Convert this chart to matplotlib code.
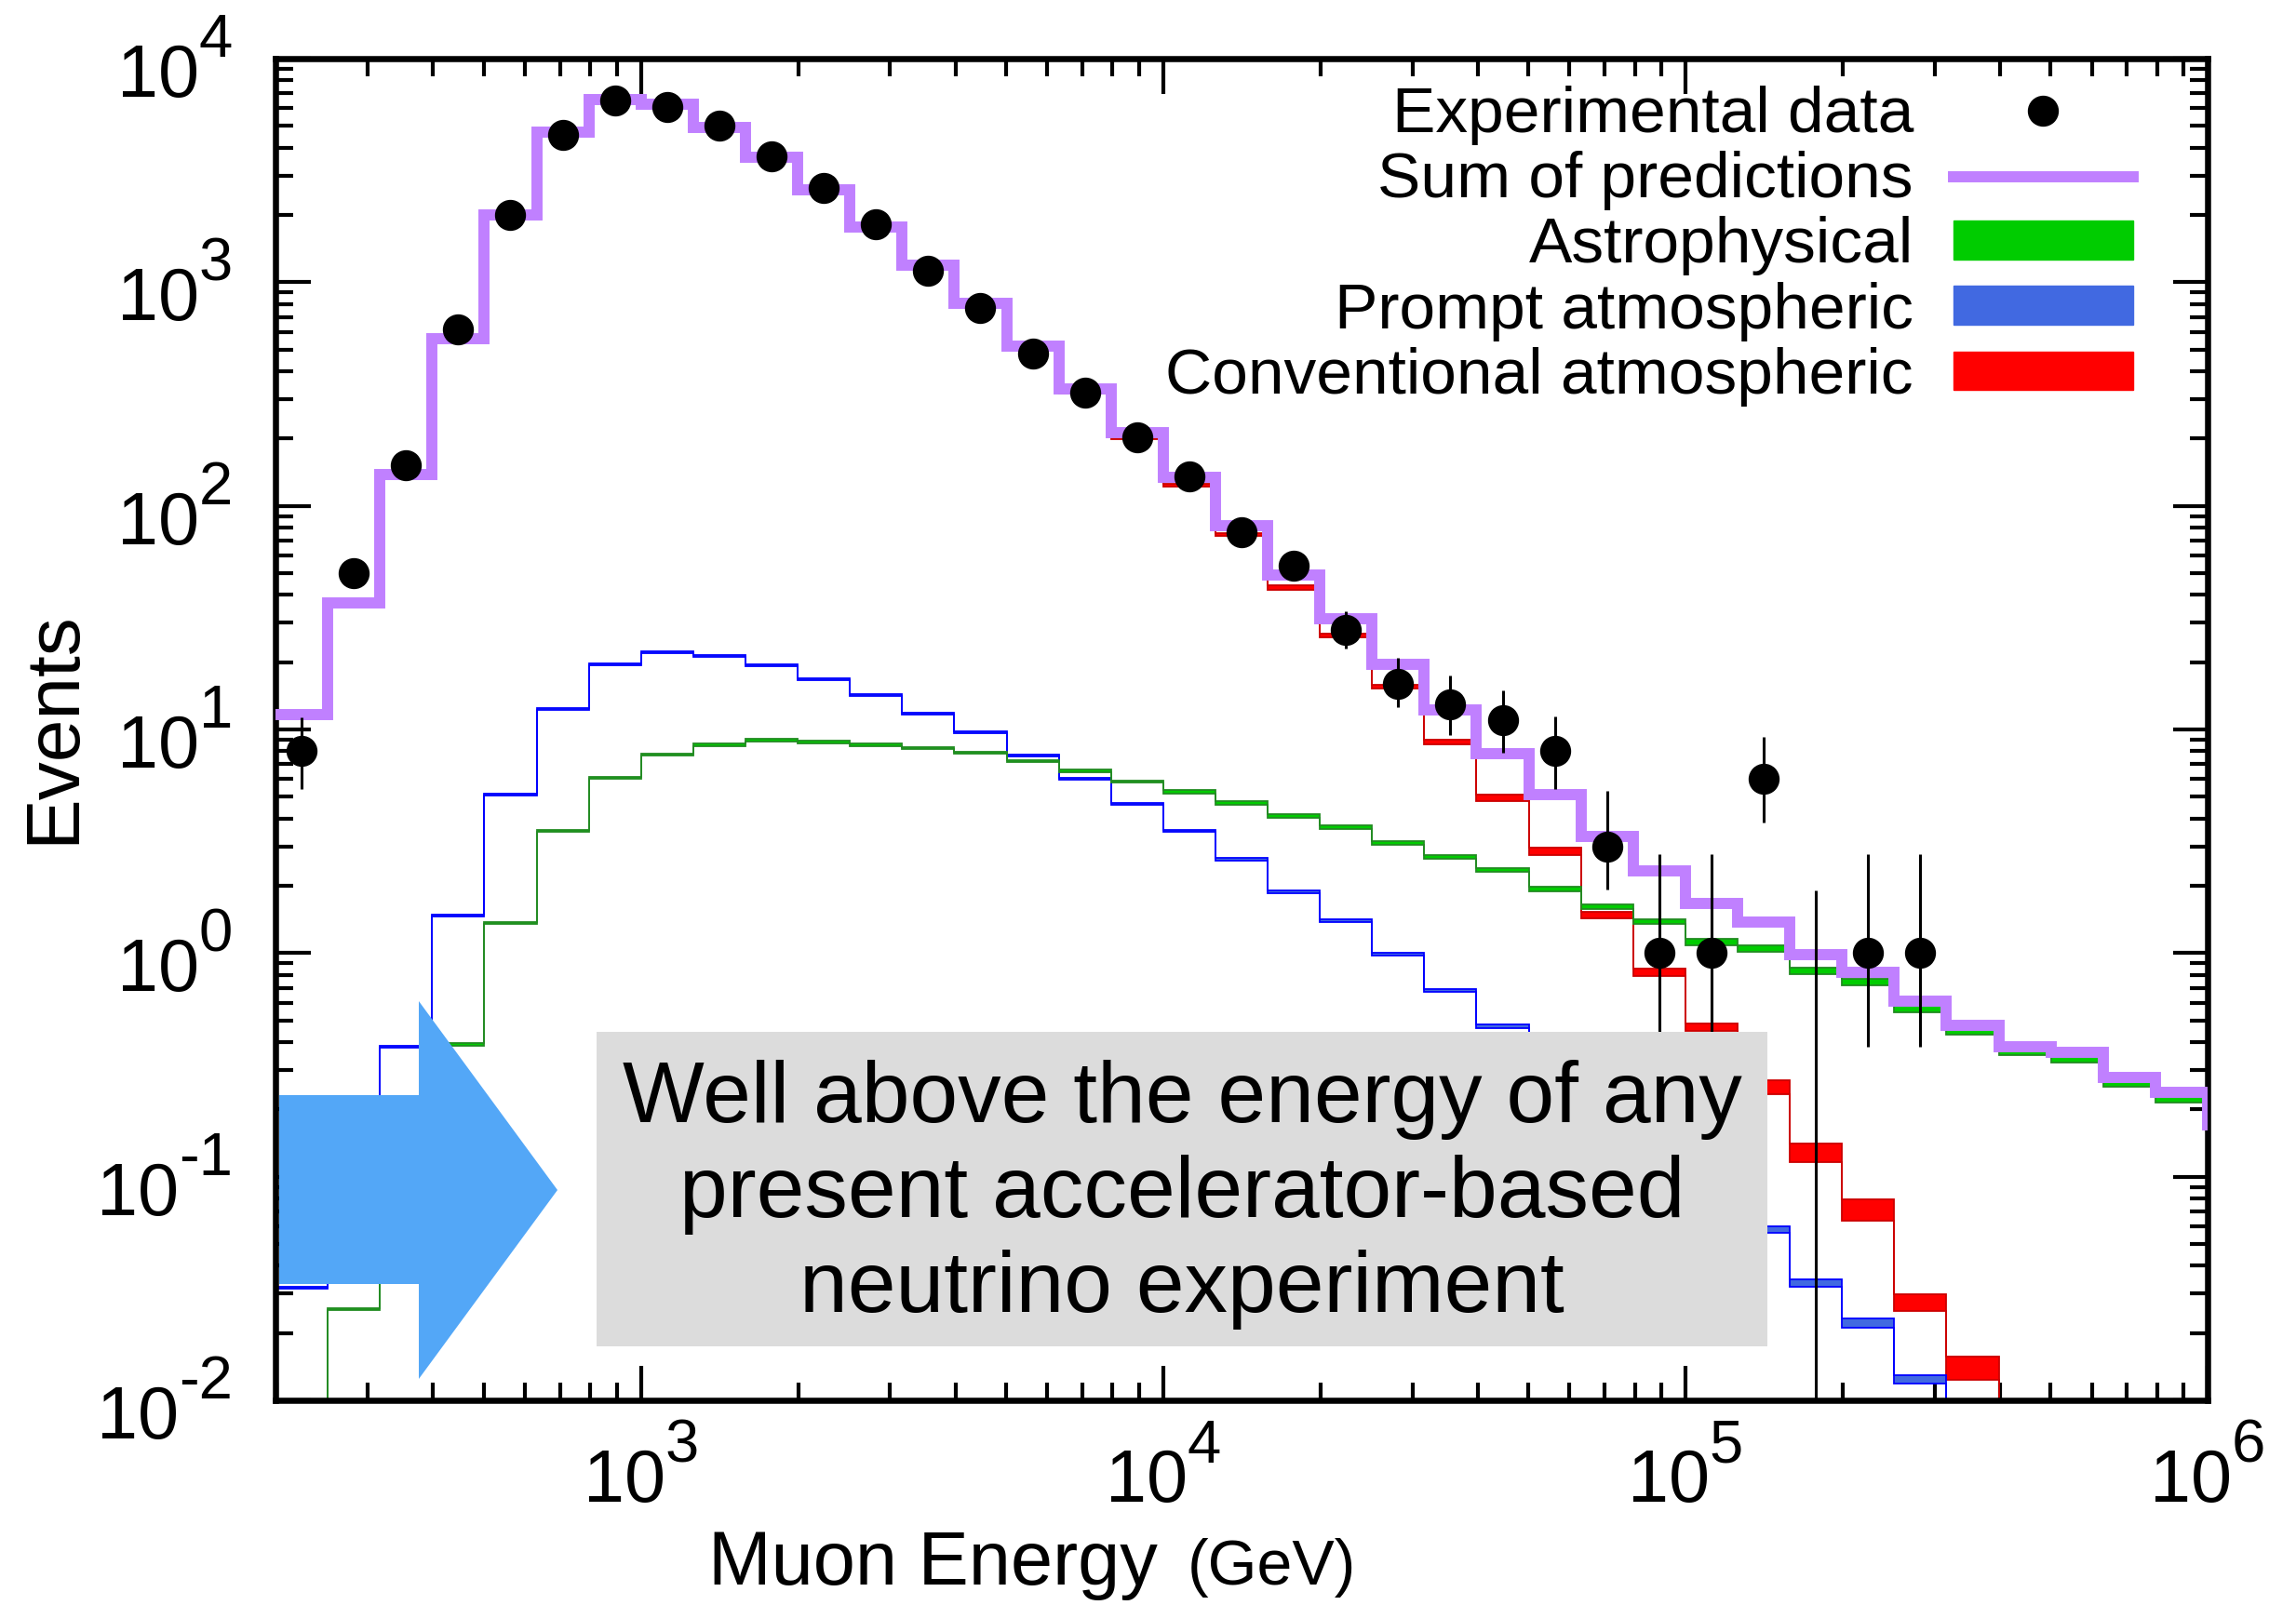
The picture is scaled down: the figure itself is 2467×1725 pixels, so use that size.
import numpy as np
import matplotlib
matplotlib.use('Agg')
import matplotlib.pyplot as plt
from matplotlib.patches import Patch, Polygon, Rectangle
from matplotlib.lines import Line2D
from matplotlib.ticker import LogLocator, NullFormatter

plt.rcParams['font.family'] = ['Liberation Sans', 'DejaVu Sans']

W, H = 2467, 1725

# log10(E / GeV) bin edges
log_edges = [2.3, 2.4, 2.5, 2.6, 2.7, 2.8, 2.9, 3.0, 3.1, 3.2, 3.3, 3.4, 3.5,
             3.6, 3.7, 3.8, 3.9, 4.0, 4.1, 4.2, 4.3, 4.4, 4.5, 4.6, 4.7, 4.8,
             4.9, 5.0, 5.1, 5.2, 5.3, 5.4, 5.5, 5.6, 5.7, 5.8, 5.9, 6.0]

conventional = [11.6, 36.5, 137, 559, 1994, 4670, 6560, 6210, 4880, 3590, 2555,
                1737, 1170, 787, 503, 321, 201, 124, 74.2, 43.1, 26.4, 15.5, 8.8,
                4.93, 2.85, 1.48, 0.82, 0.467, 0.251, 0.128, 0.071, 0.0274,
                0.0139, 0.005, 0.004, 0.003, 0.002]
# band half widths (dex)
conventional_hw = [0.004] * 17 + [0.006, 0.007, 0.012, 0.008, 0.009, 0.0096,
                                  0.014, 0.015, 0.016, 0.016, 0.017, 0.031,
                                  0.043, 0.048, 0.038, 0.052, 0.05, 0.05,
                                  0.05, 0.05]

prompt = [0.032, 0.12, 0.38, 1.47, 5.1, 12.4, 19.6, 22.1, 21.4, 19.3, 16.8,
          14.2, 11.8, 9.7, 7.65, 6.0, 4.64, 3.51, 2.62, 1.88, 1.40, 0.99, 0.68,
          0.47, 0.32, 0.21, 0.135, 0.088, 0.058, 0.0335, 0.0222, 0.0124,
          0.006, 0.004, 0.003, 0.002, 0.0015]
prompt_hw = [0.004] * 18 + [0.007] * 6 + [0.01] * 4 + [0.014, 0.017, 0.02,
                                                      0.018, 0.02, 0.02,
                                                      0.02, 0.02, 0.02]

astro = [0.006, 0.0256, 0.10, 0.39, 1.36, 3.51, 6.07, 7.71, 8.55, 8.95, 8.8,
         8.55, 8.26, 7.85, 7.2, 6.54, 5.86, 5.28, 4.69, 4.09, 3.66, 3.11, 2.69,
         2.36, 1.94, 1.61, 1.38, 1.12, 1.05, 0.83, 0.74, 0.565, 0.445, 0.361,
         0.333, 0.26, 0.221]
astro_hw = [0.005] * 17 + [0.008] * 7 + [0.01] * 3 + [0.015] * 5 + [0.012] * 5

total = [11.7, 36.7, 138, 561, 2000, 4690, 6590, 6240, 4910, 3620, 2580, 1760,
         1190, 805, 518, 334, 213, 134, 81.5, 49, 31.3, 19.5, 12.2, 7.77, 5.13,
         3.33, 2.33, 1.66, 1.37, 0.98, 0.82, 0.61, 0.475, 0.38, 0.36, 0.279,
         0.238, 0.17]

data_counts = [8, 50, 152, 615, 1995, 4560, 6520, 6050, 5000, 3650, 2650, 1820,
               1127, 767, 482, 321, 202, 136, 76, 54, 28, 16, 13, 11, 8, 3, 1,
               1, 6, 0, 1, 1]
data_lo = [5.4, 43, 140, 590, 1950, 4490, 6440, 5970, 4930, 3590, 2600, 1780,
           1093, 739, 460, 303, 188, 124, 67, 46.5, 23.1, 12.6, 9.4, 7.9, 5.4,
           1.93, 0.38, 0.38, 3.85, 0, 0.38, 0.38]
data_hi = [11.3, 57, 164, 640, 2040, 4630, 6600, 6130, 5070, 3710, 2700, 1860,
           1161, 795, 504, 339, 216, 148, 85, 61, 33.9, 20.9, 17.4, 15.0, 11.4,
           5.3, 2.77, 2.77, 9.3, 1.9, 2.77, 2.77]

labels = ['Experimental data', 'Sum of predictions', 'Astrophysical',
          'Prompt atmospheric', 'Conventional atmospheric']
x_exps = [3, 4, 5, 6]
y_exps = [-2, -1, 0, 1, 2, 3, 4]

edges = 10 ** np.array(log_edges)
total_edges = 10 ** np.append(log_edges, 6.1)
centers = np.sqrt(edges[:-1] * edges[1:])


def px(x, y):
    return x / W, 1 - y / H


def band(ax, vals, hw, fill, line):
    v = np.array(vals)
    f = 10 ** np.array(hw)
    lo, hi = v / f, v * f
    ax.fill_between(edges, np.append(lo, lo[-1]), np.append(hi, hi[-1]),
                    step='post', color=fill, lw=0, zorder=2)
    ax.stairs(hi, edges, color=line, lw=1.3, baseline=None, zorder=2.1)
    ax.stairs(lo, edges, color=line, lw=1.3, baseline=None, zorder=2.1)


fig = plt.figure(figsize=(W / 100, H / 100), dpi=100)
l, b = px(296, 1505)
r, t = px(2372, 63)
ax = fig.add_axes([l, b, r - l, t - b])
ax.set_xscale('log')
ax.set_yscale('log')

band(ax, conventional, conventional_hw, '#ff0000', '#cc0000')
band(ax, prompt, prompt_hw, '#4169e1', '#0000ff')
band(ax, astro, astro_hw, '#00cc00', '#228b22')
ax.stairs(total, total_edges, color='#c080ff', lw=8.6, baseline=None, zorder=3)

counts = np.array(data_counts, dtype=float)
lo = np.array(data_lo)
hi = np.array(data_hi)
xd = centers[:len(counts)]
m = counts > 0
ax.errorbar(xd[m], counts[m], yerr=[counts[m] - lo[m], hi[m] - counts[m]],
            fmt='o', ms=23, color='k', elinewidth=2.2, capsize=0, zorder=5)
ax.vlines(xd[~m], 1e-3, hi[~m], color='k', lw=2.2, zorder=5)

ax.set_xlim(edges[0], 1e6)
ax.set_ylim(1e-2, 1e4)
for a in (ax.xaxis, ax.yaxis):
    a.set_major_locator(LogLocator(base=10, numticks=20))
    a.set_minor_locator(LogLocator(base=10, subs=np.arange(2, 10), numticks=100))
    a.set_minor_formatter(NullFormatter())
ax.tick_params(which='both', direction='in', top=True, right=True, width=3,
               labelbottom=False, labelleft=False)
ax.tick_params(which='major', length=27)
ax.tick_params(which='minor', length=13.5)
for s in ax.spines.values():
    s.set_linewidth(4.7)

# tick labels drawn as "10" plus a large raised exponent
renderer = fig.canvas.get_renderer()


def text_width(s, size):
    tmp = fig.text(0, 0, s, fontsize=size)
    w = tmp.get_window_extent(renderer).width
    tmp.remove()
    return w


BASE, EXP = 57, 47
w10 = text_width('10', BASE)
for e in y_exps:
    s = str(e)
    we = text_width(s, EXP)
    kw = dict(xy=(0, 10.0 ** e), xycoords=('axes fraction', 'data'),
              textcoords='offset pixels', va='baseline', ha='right',
              annotation_clip=False)
    ax.annotate(s, xytext=(-46, 2), fontsize=EXP, **kw)
    ax.annotate('10', xytext=(-46 - we, -41), fontsize=BASE, **kw)
for e in x_exps:
    s = str(e)
    we = text_width(s, EXP)
    x0 = -(w10 + we) / 2
    kw = dict(xy=(10.0 ** e, 0), xycoords=('data', 'axes fraction'),
              textcoords='offset pixels', va='baseline', ha='left',
              annotation_clip=False)
    ax.annotate('10', xytext=(x0, -109), fontsize=BASE, **kw)
    ax.annotate(s, xytext=(x0 + w10, -67), fontsize=EXP, **kw)

handles = [Line2D([], [], ls='none', marker='o', ms=23, color='k'),
           Line2D([], [], color='#c080ff', lw=8.6),
           Patch(facecolor='#00cc00', edgecolor='#00cc00'),
           Patch(facecolor='#4169e1', edgecolor='#4169e1'),
           Patch(facecolor='#ff0000', edgecolor='#ff0000')]
ax.legend(handles, labels, loc='upper right',
          bbox_to_anchor=((2292 - 296) / 2076, (1505 - 92) / 1442),
          frameon=False, markerfirst=False, fontsize=50, handlelength=2.78,
          handleheight=0.55, handletextpad=0.62, labelspacing=0.09,
          borderpad=0, borderaxespad=0)

fig.text(*px(58, 782), 'Events', rotation=90, ha='center', va='center', fontsize=59)
fig.text(*px(761, 1703), 'Muon Energy', ha='left', va='baseline', fontsize=58.5)
fig.text(*px(1276, 1703), '(GeV)', ha='left', va='baseline', fontsize=49)

# grey note box and arrow
bx0, by0 = px(641, 1447)
bx1, by1 = px(1899, 1109)
fig.add_artist(Rectangle((bx0, by0), bx1 - bx0, by1 - by0, transform=fig.transFigure,
                         facecolor='#dcdcdc', edgecolor='none', zorder=10))
fig.text(*px(1270, 1284), 'Well above the energy of any\npresent accelerator-based\nneutrino experiment',
         ha='center', va='center', fontsize=67, linespacing=1.24, zorder=11)
arrow = [(300, 1177), (450, 1177), (450, 1076), (599, 1279), (450, 1482),
         (450, 1380), (300, 1380)]
fig.add_artist(Polygon([px(x, y) for x, y in arrow], closed=True,
                       transform=fig.transFigure, facecolor='#53a7f7',
                       edgecolor='none', zorder=10))

fig.savefig('out.png', dpi=100)
